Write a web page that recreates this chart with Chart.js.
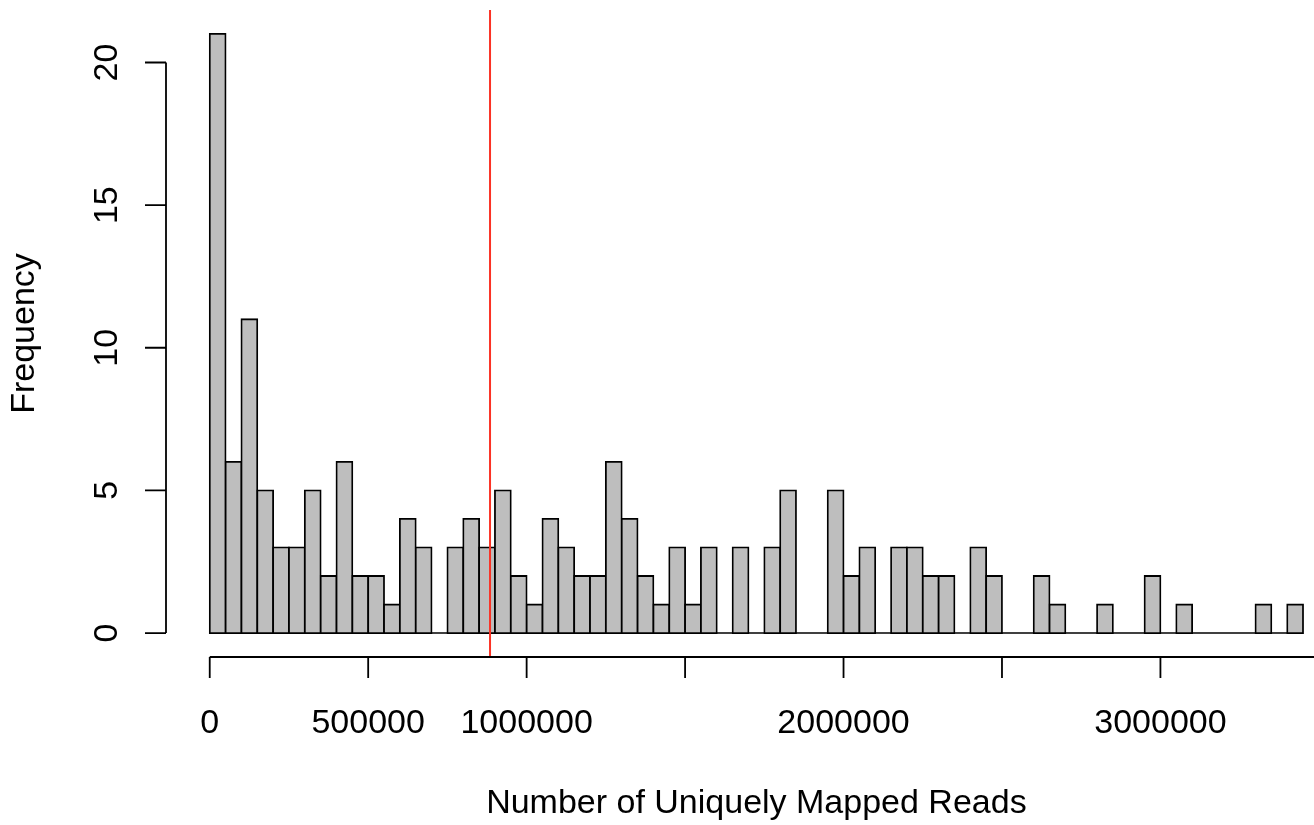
<!DOCTYPE html>
<html>
<head>
<meta charset="utf-8">
<script src="https://cdn.jsdelivr.net/npm/chart.js@4.4.1/dist/chart.umd.min.js"></script>
<style>
  html, body { margin: 0; padding: 0; background: #ffffff; overflow: hidden; }
  #wrap { width: 1314px; height: 825px; position: relative; }
</style>
</head>
<body>
<div id="wrap"><canvas id="c" width="1314" height="825"></canvas></div>
<script>
// ---- data (histogram of uniquely mapped reads, bin width 50000) ----
const BIN_STARTS = [
  0, 50000, 100000, 150000, 200000, 250000, 300000, 350000, 400000, 450000,
  500000, 550000, 600000, 650000, 700000, 750000, 800000, 850000, 900000, 950000,
  1000000, 1050000, 1100000, 1150000, 1200000, 1250000, 1300000, 1350000, 1400000, 1450000,
  1500000, 1550000, 1600000, 1650000, 1700000, 1750000, 1800000, 1850000, 1900000, 1950000,
  2000000, 2050000, 2100000, 2150000, 2200000, 2250000, 2300000, 2350000, 2400000, 2450000,
  2500000, 2550000, 2600000, 2650000, 2700000, 2750000, 2800000, 2850000, 2900000, 2950000,
  3000000, 3050000, 3100000, 3150000, 3200000, 3250000, 3300000, 3350000, 3400000
];
const BIN_WIDTH = 50000;
const COUNTS = [
  21, 6, 11, 5, 3, 3, 5, 2, 6, 2,
  2, 1, 4, 3, 0, 3, 4, 3, 5, 2,
  1, 4, 3, 2, 2, 6, 4, 2, 1, 3,
  1, 3, 0, 3, 0, 3, 5, 0, 0, 5,
  2, 3, 0, 3, 3, 2, 2, 0, 3, 2,
  0, 0, 2, 1, 0, 0, 1, 0, 0, 2,
  0, 1, 0, 0, 0, 0, 1, 0, 1
];
const MARKER_X = 884500;           // red vertical reference line

const X_TICKS = [0, 500000, 1000000, 1500000, 2000000, 2500000, 3000000, 3500000];
const X_TICK_LABELS = ['0', '500000', '1000000', '', '2000000', '', '3000000', ''];
const Y_TICKS = [0, 5, 10, 15, 20];
const Y_TICK_LABELS = ['0', '5', '10', '15', '20'];
const X_TITLE = 'Number of Uniquely Mapped Reads';
const Y_TITLE = 'Frequency';

// ---- axis ranges (R style 4% expansion) ----
const X_MIN = -138000, X_MAX = 3484600, X_RANGE_END = 3588000;
const Y_MIN = -0.84, Y_MAX = 21.84;

const FONT = '34px "Liberation Sans", Arial, Helvetica, sans-serif';
const LINE_COLOR = '#000000';
const AXIS_LW = 1.8;
const TICK_LEN = 21;

const rAxes = {
  id: 'rAxes',
  afterDraw(chart) {
    const { ctx, chartArea, scales } = chart;
    const x = scales.x, y = scales.y;
    ctx.save();
    ctx.strokeStyle = LINE_COLOR;
    ctx.fillStyle = '#000000';
    ctx.lineWidth = AXIS_LW;
    ctx.lineCap = 'butt';
    // x axis
    const ay = chartArea.bottom;
    ctx.beginPath();
    ctx.moveTo(x.getPixelForValue(X_TICKS[0]), ay);
    ctx.lineTo(x.getPixelForValue(X_TICKS[X_TICKS.length - 1]), ay);
    X_TICKS.forEach(v => {
      const px = x.getPixelForValue(v);
      ctx.moveTo(px, ay);
      ctx.lineTo(px, ay + TICK_LEN);
    });
    ctx.stroke();
    // y axis
    const ax = chartArea.left;
    ctx.beginPath();
    ctx.moveTo(ax, y.getPixelForValue(Y_TICKS[0]));
    ctx.lineTo(ax, y.getPixelForValue(Y_TICKS[Y_TICKS.length - 1]));
    Y_TICKS.forEach(v => {
      const py = y.getPixelForValue(v);
      ctx.moveTo(ax, py);
      ctx.lineTo(ax - TICK_LEN, py);
    });
    ctx.stroke();
    // labels
    ctx.font = FONT;
    ctx.textAlign = 'center';
    ctx.textBaseline = 'alphabetic';
    X_TICKS.forEach((v, i) => {
      if (X_TICK_LABELS[i]) ctx.fillText(X_TICK_LABELS[i], x.getPixelForValue(v), ay + 76);
    });
    Y_TICKS.forEach((v, i) => {
      ctx.save();
      ctx.translate(ax - 49, y.getPixelForValue(v));
      ctx.rotate(-Math.PI / 2);
      ctx.fillText(Y_TICK_LABELS[i], 0, 0);
      ctx.restore();
    });
    // titles
    const cx = (chartArea.left + x.getPixelForValue(X_RANGE_END)) / 2;
    ctx.fillText(X_TITLE, cx, ay + 156);
    ctx.save();
    ctx.translate(ax - 132, (chartArea.top + chartArea.bottom) / 2);
    ctx.rotate(-Math.PI / 2);
    ctx.fillText(Y_TITLE, 0, 0);
    ctx.restore();
    ctx.restore();
  }
};

const barData = BIN_STARTS.map((s, i) => ({ x: s + BIN_WIDTH / 2, y: COUNTS[i] }));
const lastEdge = BIN_STARTS[BIN_STARTS.length - 1] + BIN_WIDTH;

new Chart(document.getElementById('c'), {
  type: 'bar',
  data: {
    datasets: [
      {
        type: 'line',
        data: [{ x: MARKER_X, y: Y_MIN }, { x: MARKER_X, y: Y_MAX }],
        borderColor: '#fb3224',
        borderWidth: 2,
        pointRadius: 0,
        fill: false,
        order: 0
      },
      {
        type: 'bar',
        data: barData,
        backgroundColor: COUNTS.map(v => v === 0 ? LINE_COLOR : '#bebebe'),
        borderColor: LINE_COLOR,
        borderWidth: 1.8,
        borderSkipped: false,
        inflateAmount: 0.9,
        barPercentage: 1,
        categoryPercentage: 1,
        order: 1
      },
      {
        // outline of the empty bins along the baseline
        type: 'line',
        data: [{ x: BIN_STARTS[0], y: 0 }, { x: lastEdge, y: 0 }],
        borderColor: LINE_COLOR,
        borderWidth: 1.6,
        pointRadius: 0,
        fill: false,
        order: 2
      }
    ]
  },
  options: {
    responsive: false,
    devicePixelRatio: 1,
    animation: false,
    layout: { padding: { left: 166, right: 0, top: 10, bottom: 168 } },
    plugins: { legend: { display: false }, tooltip: { enabled: false } },
    scales: {
      x: { type: 'linear', min: X_MIN, max: X_MAX, offset: false, display: false },
      y: { type: 'linear', min: Y_MIN, max: Y_MAX, display: false }
    }
  },
  plugins: [rAxes]
});
</script>
</body>
</html>
